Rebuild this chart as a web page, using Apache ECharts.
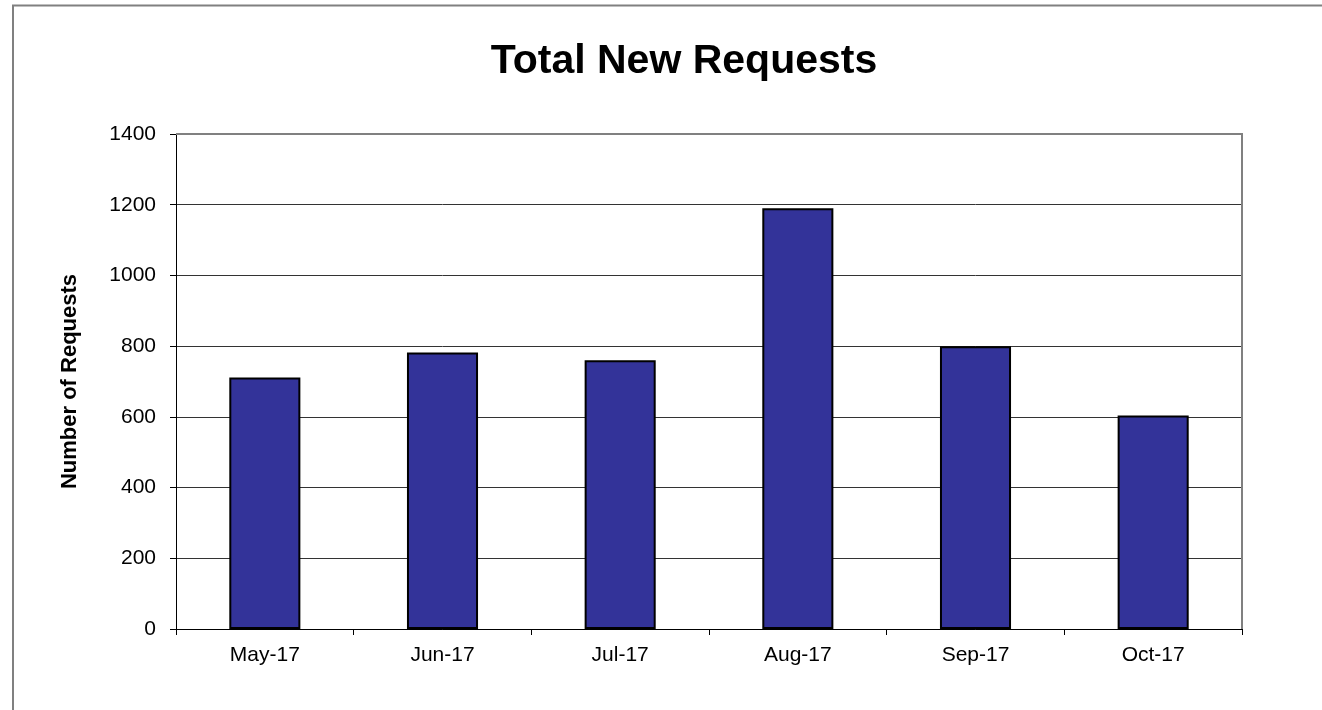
<!DOCTYPE html>
<html>
<head>
<meta charset="utf-8">
<script src="https://cdn.jsdelivr.net/npm/echarts@6/dist/echarts.min.js"></script>
<style>
  html, body { margin: 0; padding: 0; background: #fff; }
  #main { width: 1322px; height: 710px; }
</style>
</head>
<body>
<div id="main"></div>
<script>
var months = ['May-17', 'Jun-17', 'Jul-17', 'Aug-17', 'Sep-17', 'Oct-17'];
var requests = [711, 782, 760, 1190, 800, 604];
var yTicks = [0, 200, 400, 600, 800, 1000, 1200, 1400];

var myChart = echarts.init(document.getElementById('main'));
var option = {
    animation: false,
    textStyle: { fontFamily: 'Liberation Sans, Arial, sans-serif' },
    title: {
        text: 'Total New Requests',
        left: 679,
        top: 36,
        textAlign: 'center',
        textStyle: { fontSize: 41, fontWeight: 'bold', color: '#000', fontFamily: 'Liberation Sans, Arial, sans-serif' }
    },
    graphic: [
        {
            type: 'polyline',
            shape: { points: [[13, 710], [13, 5.5], [1322, 5.5]] },
            style: { stroke: '#808080', lineWidth: 2, fill: null }
        },
        {
            type: 'polyline',
            shape: { points: [[176, 134], [1242, 134], [1242, 629]] },
            style: { stroke: '#808080', lineWidth: 2, fill: null },
            z: 10
        }
    ],
    grid: { left: 176, right: 80, top: 134, bottom: 81 },
    xAxis: {
        type: 'category',
        data: months,
        axisLine: { lineStyle: { color: '#000', width: 1 } },
        axisTick: { show: true, alignWithLabel: false, length: 6, lineStyle: { color: '#000' } },
        axisLabel: { color: '#000', fontSize: 21, margin: 16 }
    },
    yAxis: {
        type: 'value',
        min: yTicks[0],
        max: yTicks[yTicks.length - 1],
        interval: 200,
        name: 'Number of Requests',
        nameLocation: 'middle',
        nameGap: 95,
        nameTextStyle: { fontSize: 22, fontWeight: 'bold', color: '#000' },
        axisLine: { show: true, lineStyle: { color: '#000', width: 1 } },
        axisTick: { show: true, length: 6, lineStyle: { color: '#000' } },
        axisLabel: { color: '#000', fontSize: 21, margin: 20, formatter: function (v) { return String(v); } },
        splitLine: { lineStyle: { color: '#333', width: 1 } }
    },
    series: [
        {
            type: 'bar',
            data: requests,
            barWidth: '40%',
            itemStyle: { color: '#333399', borderColor: '#000', borderWidth: 2 }
        }
    ]
};
myChart.setOption(option);
</script>
</body>
</html>
